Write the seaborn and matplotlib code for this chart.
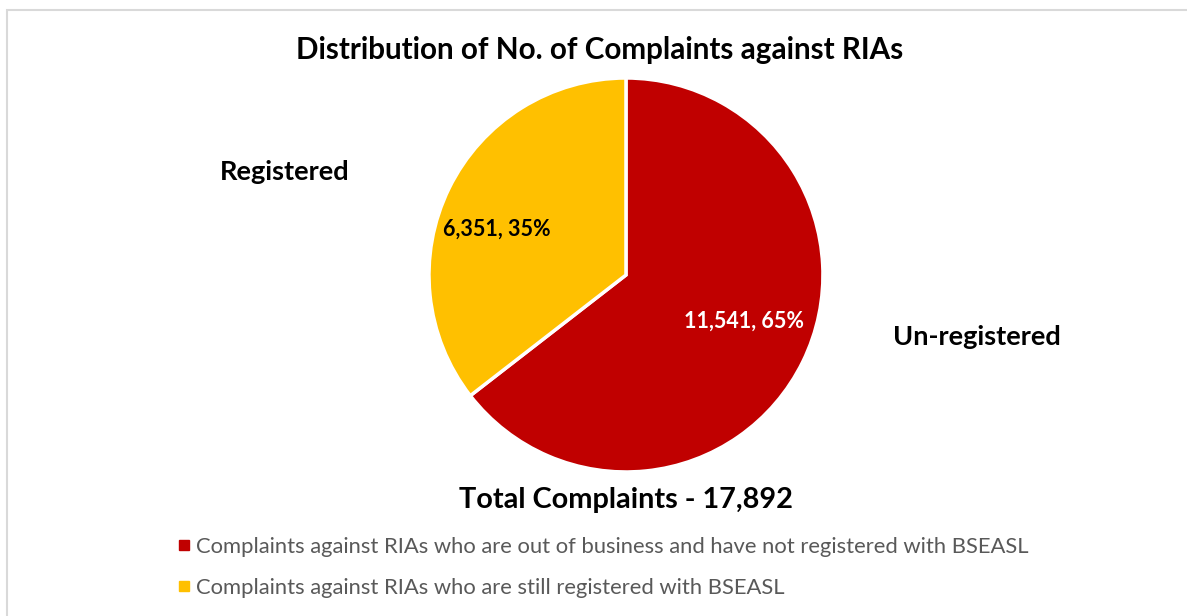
import matplotlib
matplotlib.use("Agg")
import matplotlib.pyplot as plt
import seaborn as sns
from matplotlib.patches import Rectangle
from matplotlib.lines import Line2D

categories = ["Un-registered", "Registered"]
values = [11541, 6351]
colors = ["#C00000", "#FFC000"]
legend_labels = [
    "Complaints against RIAs who are out of business and have not registered with BSEASL",
    "Complaints against RIAs who are still registered with BSEASL",
]
title = "Distribution of No. of Complaints against RIAs"
total_label = "Total Complaints - 17,892"

sns.set_theme(style="white")
plt.rcParams['font.family'] = ['Lato', 'DejaVu Sans']
plt.rcParams['text.color'] = 'black'

fig = plt.figure(figsize=(11.87, 6.16), dpi=100)
fig.patch.set_facecolor("white")

# outer border
fig.add_artist(Rectangle((7/1187, -0.05), 1.2, (616-10)/616 + 0.05, transform=fig.transFigure,
                         fill=False, edgecolor="#D9D9D9", linewidth=1.5))

ax = fig.add_axes([0.3614, 0.2338, 0.3319, 0.6396])
total = sum(values)

def fmt(p):
    v = int(round(p * total / 100.0))
    return f"{v:,}, {p:.0f}%"

wedges, texts, autotexts = ax.pie(
    values, colors=colors, startangle=90, counterclock=False,
    autopct=fmt, pctdistance=0.67,
    wedgeprops=dict(edgecolor="white", linewidth=2.5),
    textprops=dict(fontsize=15.5, fontweight="bold"),
)
autotexts[0].set_color("white")
autotexts[1].set_color("black")
# label placement inside wedges (Excel "best fit" style)
autotexts[0].set_position((0.60, -0.235))
autotexts[1].set_position((-0.655, 0.23))
ax.set_xlim(-1.0, 1.0)
ax.set_ylim(-1.0, 1.0)
ax.set_aspect("equal")
ax.axis("off")

fig.text(600/1187, 1 - 50/616, title, ha="center", va="center", fontsize=21.3, fontweight="bold", color="black")
fig.text(285/1187, 1 - 172/616, categories[1], ha="center", va="center", fontsize=19.5, fontweight="bold", color="black")
fig.text(977/1187, 1 - 337/616, categories[0], ha="center", va="center", fontsize=19.5, fontweight="bold", color="black")
fig.text(626/1187, 1 - 500/616, total_label, ha="center", va="center", fontsize=20.8, fontweight="bold", color="black")

handles = [Line2D([0], [0], marker="s", linestyle="none", markersize=7,
                  markerfacecolor=c, markeredgecolor=c) for c in colors]
fig.legend(handles, legend_labels, loc="upper left", bbox_to_anchor=(164/1187, 1 - 528/616),
           frameon=False, fontsize=15.8, labelcolor="#595959", handletextpad=0.05,
           labelspacing=0.95, handlelength=1.0, borderaxespad=0)

fig.savefig("out.png", dpi=100, facecolor="white")
